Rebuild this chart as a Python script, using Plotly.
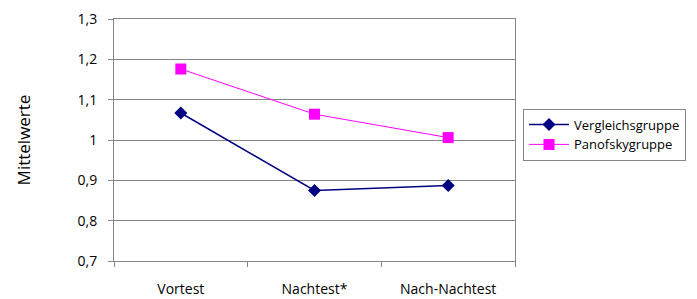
import plotly.graph_objects as go

categories = ["Vortest", "Nachtest*", "Nach-Nachtest"]
vergleich = [1.067, 0.875, 0.887]
panofsky = [1.176, 1.064, 1.006]
ytickvals = [0.7, 0.8, 0.9, 1.0, 1.1, 1.2, 1.3]
yticktext = ["0,7", "0,8", "0,9", "1", "1,1", "1,2", "1,3"]

font = "Open Sans"
fig = go.Figure()
fig.add_trace(go.Scatter(x=categories, y=vergleich, name="Vergleichsgruppe", mode="lines+markers",
                         line=dict(color="#000080", width=1.5),
                         marker=dict(symbol="diamond", size=10, color="#000080")))
fig.add_trace(go.Scatter(x=categories, y=panofsky, name="Panofskygruppe", mode="lines+markers",
                         line=dict(color="#FF00FF", width=1),
                         marker=dict(symbol="square", size=11, color="#FF00FF")))

fig.update_layout(
    width=689, height=291,
    margin=dict(l=106, r=176, t=11, b=38),
    paper_bgcolor="white", plot_bgcolor="white",
    font=dict(family=font, size=14, color="black"),
    showlegend=True,
    legend=dict(x=1.02, y=0.63, xanchor="left", yanchor="top",
                bordercolor="#868686", borderwidth=1, bgcolor="white",
                font=dict(size=13), tracegroupgap=0, itemwidth=40),
    xaxis=dict(type="category", tickson="boundaries", ticks="outside", ticklen=5,
               tickcolor="#868686", showline=True, linecolor="#868686", mirror=True,
               showgrid=False, ticklabelstandoff=15, range=[-0.5, 2.5], automargin=False),
    yaxis=dict(range=[0.7, 1.3], tickvals=ytickvals, ticktext=yticktext,
               ticks="outside", ticklen=5, tickcolor="#868686",
               showline=True, linecolor="#868686", mirror=True,
               showgrid=True, gridcolor="#868686", gridwidth=1,
               zeroline=False, ticklabelstandoff=8, automargin=False,
               title=dict(text="Mittelwerte", font=dict(size=17), standoff=42)),
)
fig.write_html("out.html")
